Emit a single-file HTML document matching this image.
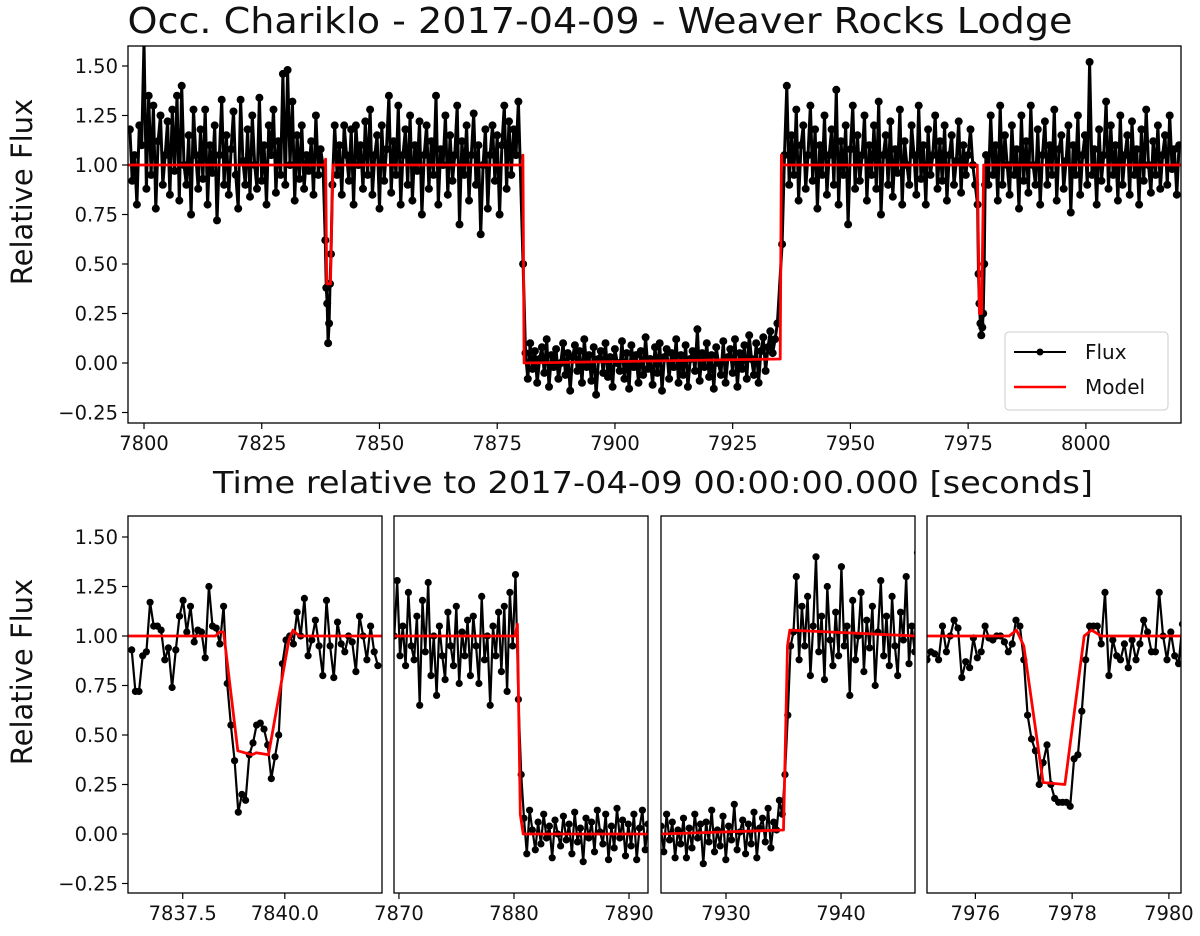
<!DOCTYPE html>
<html><head><meta charset="utf-8"><style>
body{margin:0;background:#fff}
svg text{font-family:"DejaVu Sans","Liberation Sans",sans-serif;fill:#111}
</style></head><body>
<svg id="fig" xmlns="http://www.w3.org/2000/svg" width="1200" height="931" viewBox="0 0 1200 931">
<text x="600" y="33" font-size="36" text-anchor="middle" textLength="945" lengthAdjust="spacingAndGlyphs">Occ. Chariklo - 2017-04-09 - Weaver Rocks Lodge</text>
<text x="653" y="493" font-size="30" text-anchor="middle" textLength="880" lengthAdjust="spacingAndGlyphs">Time relative to 2017-04-09 00:00:00.000 [seconds]</text>
<text transform="translate(32,192) rotate(-90)" font-size="29" text-anchor="middle">Relative Flux</text>
<text transform="translate(32,672) rotate(-90)" font-size="29" text-anchor="middle">Relative Flux</text>
<g id="plots"></g>
<g>
<rect x="1005" y="332" width="163" height="78" rx="4" fill="#fff" fill-opacity="0.85" stroke="#ccc"/>
<line x1="1014" y1="352" x2="1066" y2="352" stroke="#000" stroke-width="2"/>
<circle cx="1040" cy="352" r="3.5" fill="#000"/>
<text x="1085" y="359" font-size="20">Flux</text>
<line x1="1014" y1="387" x2="1066" y2="387" stroke="#f00" stroke-width="2.5"/>
<text x="1085" y="394" font-size="20">Model</text>
</g>
</svg>
<script>
const topBase1=[1.18,0.92,1.05,0.8,1.2,1.1,1.62,0.88,1.35,0.95,1.3,0.78,1.12,1.25,0.9,1.05,1.22,0.85,1.28,0.97,1.35,0.82,1.4,1.0,0.9,1.15,0.75,1.28,1.05,0.88,1.18,0.93,1.28,0.8,1.1,0.96,1.2,0.72,1.05,1.33,0.9,1.15,0.85,1.08,1.27,0.95,0.78,1.33,1.02,0.9,1.18,0.84,1.25,1.0,0.88,1.34,0.92,1.1,0.8,1.2,1.05,1.28,0.86,1.12,0.95,1.46,0.9,1.48,1.0,1.32,0.82,1.15,0.93,1.2,0.88,1.05,0.97,1.12,0.85,1.25,0.95,1.08,1.0];
const topDip1=[0.62,0.38,0.3,0.1,0.2,0.4,0.55];
const topBase2=[0.9,1.2,0.95,1.1,0.85,1.2,1.05,0.92,1.18,0.8,1.2,1.0,1.1,0.88,1.22,0.95,1.28,0.85,1.05,1.15,0.78,1.2,0.92,1.08,1.35,0.86,1.12,0.95,1.3,0.8,1.05,1.18,0.9,1.25,0.82,1.1,0.97,1.22,0.75,1.05,1.2,0.88,1.12,0.95,1.35,0.8,1.08,1.0,1.25,0.85,1.15,0.92,1.05,1.3,0.7,1.12,0.95,1.2,0.82,1.05,1.26,0.9,1.1,0.65,1.0,1.18,0.78,1.05,1.2,0.92,1.15,0.75,1.1,1.3,0.88,1.22,0.95,1.18,1.05,1.32];
const topOcc=[0.5,0.05,-0.08,0.1,-0.03,0.06,-0.1,0.02,0.08,-0.05,0.12,-0.12,0.04,-0.02,0.07,-0.08,0.0,0.1,-0.06,0.05,-0.14,0.03,0.09,-0.04,0.06,-0.1,0.12,-0.02,0.04,-0.09,0.08,-0.16,0.02,0.06,-0.05,0.1,-0.07,0.03,-0.12,0.07,0.0,-0.04,0.11,-0.08,0.05,-0.13,0.09,-0.02,0.04,-0.1,0.06,-0.06,0.13,-0.03,0.02,-0.11,0.08,-0.05,0.1,-0.14,0.03,0.07,-0.08,0.05,-0.02,0.12,-0.1,0.04,-0.06,0.09,-0.12,0.02,0.06,-0.04,0.17,-0.09,0.05,-0.02,0.1,-0.07,0.04,-0.13,0.08,0.0,-0.06,0.11,-0.1,0.03,0.07,-0.05,0.12,-0.12,0.05,-0.03,0.09,-0.08,0.14,0.02,-0.06,0.1,-0.1,0.06,0.13,-0.04,0.08,0.16,0.05,0.12,0.2];
const topBase3=[0.6,1.05,1.4,0.9,1.15,0.95,1.28,0.82,1.1,1.2,0.88,1.05,1.3,0.92,1.18,0.78,1.1,0.95,1.25,0.85,1.05,1.18,0.9,1.38,0.8,1.12,0.95,1.2,0.7,1.08,1.3,0.88,1.15,0.92,1.05,1.25,0.82,1.1,0.95,1.2,0.88,1.32,0.75,1.05,1.15,0.9,1.22,0.84,1.08,0.96,1.28,0.8,1.12,1.0,0.9,1.2,1.05,0.85,1.3,0.93,1.1,0.8,1.18,0.95,1.05,1.25,0.88,1.12,0.92,1.2,0.82,1.05,1.15,0.9,1.02,1.22,0.86,1.1,0.95,1.05,1.18,1.0,0.9];
const topDip2=[0.8,0.45,0.3,0.2,0.14,0.18,0.25,0.5,0.9];
const topBase4=[1.05,0.9,1.25,0.95,1.1,0.82,1.3,0.9,1.15,1.0,0.85,1.2,0.95,1.08,0.78,1.25,0.92,1.12,0.86,1.3,1.0,0.9,1.18,0.8,1.05,1.22,0.9,1.1,0.95,1.28,0.82,1.08,1.15,0.88,1.02,1.2,0.76,1.1,0.95,1.25,0.85,1.05,1.15,0.9,1.52,0.95,1.08,0.8,1.18,0.92,1.05,1.32,0.88,1.2,0.95,1.1,0.82,1.25,0.9,1.05,1.15,0.85,1.22,0.95,1.08,0.8,1.18,0.92,1.28,1.0,0.86,1.12,0.95,1.2,0.88,1.05,1.15,0.9,1.25,0.98,1.08,0.85,1.1];
const topSegStarts=[7797,7838.5,7840,7880.5,7935.5,7977.0,7978.8];
const topSegSteps=[0.5,0.2,0.5,0.5,0.5,0.2,0.5];
const topModelT=[7796,7838.4,7838.55,7838.8,7839.6,7839.75,7840.1,7880.3,7880.45,7880.7,7935.1,7935.35,7935.5,7976.95,7977.4,7977.85,7978.3,8021];
const topModelV=[1,1,1.03,0.4,0.4,0.6,1,1,1.05,0,0.02,1.05,1,1,0.25,0.25,1,1];
const topTicks=[7800,7825,7850,7875,7900,7925,7950,7975,8000];

const p1Flux=[0.93,0.72,0.72,0.9,0.92,1.17,1.05,1.05,1.03,0.88,0.94,0.74,0.93,1.1,1.18,1.02,1.15,0.97,1.03,1.02,0.89,1.25,1.05,1.04,0.96,1.15,0.76,0.55,0.37,0.11,0.2,0.17,0.4,0.46,0.55,0.56,0.53,0.45,0.28,0.39,0.5,0.86,0.98,1.0,0.96,1.12,1.0,1.19,0.9,0.98,1.08,0.95,0.8,1.18,0.95,0.79,1.07,0.96,0.92,1.0,0.97,0.82,1.1,1.0,0.88,1.05,0.92,0.85];
const p1Start=7836.25, p1Step=0.09;
const p1ModelT=[7836.1,7838.3,7838.4,7838.5,7838.85,7839.2,7839.3,7839.6,7840.1,7840.2,7840.35,7842.4];
const p1ModelV=[1,1,1.02,1.02,0.42,0.4,0.41,0.4,0.98,1.03,1.0,1];
const p1Ticks=[7837.5,7840.0];

const p2Flux=[1.0,1.28,0.9,1.05,0.85,1.22,0.95,0.88,1.1,0.65,1.18,0.92,1.27,0.8,1.0,0.7,1.05,0.9,0.78,1.12,0.95,0.85,1.15,0.76,1.02,0.9,1.08,0.8,1.1,0.95,0.76,1.2,0.88,1.0,0.65,1.05,0.9,1.12,0.82,1.15,0.72,1.22,0.95,1.31,
0.68,0.3,
0.08,-0.1,0.12,0.02,-0.08,0.06,-0.05,0.1,-0.02,0.04,-0.12,0.07,0.0,-0.06,0.09,-0.03,0.05,-0.1,0.11,-0.04,0.03,-0.14,0.08,-0.02,0.06,-0.09,0.12,0.01,-0.05,0.1,-0.13,0.04,-0.07,0.13,-0.02,0.07,-0.11,0.05,-0.06,0.1,-0.13,0.03,0.12,-0.08,0.05];
const p2Start=7869.6, p2Step=0.245;
const p2ModelT=[7869.5,7880.1,7880.3,7880.55,7880.8,7891.7];
const p2ModelV=[1,1,1.06,0.1,0,0];
const p2Ticks=[7870,7880,7890];

const p3Flux=[0.04,-0.09,0.1,-0.03,0.06,-0.12,0.02,
-0.05,0.08,-0.12,0.03,-0.07,0.1,-0.02,0.05,-0.15,0.06,-0.04,0.12,-0.09,0.02,-0.06,0.09,-0.13,0.04,-0.03,0.15,-0.08,0.01,0.07,-0.1,0.05,-0.05,0.11,-0.12,0.03,0.08,-0.04,0.13,-0.07,0.06,0.02,0.17,0.1,
0.3,0.6,0.95,
1.02,1.3,0.88,1.15,0.95,1.2,0.8,1.05,1.4,0.92,1.1,0.78,1.25,0.98,0.85,1.12,0.9,1.35,0.95,1.05,0.7,1.18,0.88,1.0,1.22,0.82,1.08,0.94,1.15,0.75,1.02,1.28,0.9,1.1,0.85,1.2,0.95,0.8,1.12,0.98,1.3,0.86,1.05,0.92,1.42,0.88,1.1,0.95,1.02];
const p3Start=7924.35, p3Step=0.245;
const p3ModelT=[7924.3,7935.0,7935.35,7935.55,7946.5];
const p3ModelV=[0,0.02,0.95,1.03,1];
const p3Ticks=[7930,7940];

const p4Flux=[0.88,0.92,0.91,0.88,1.05,0.92,1.0,1.08,1.04,0.79,0.87,0.84,0.99,0.89,0.92,1.05,0.99,0.98,1.0,1.0,0.97,0.92,0.96,1.08,1.05,0.88,0.6,0.48,0.42,0.25,0.36,0.45,0.25,0.18,0.16,0.16,0.16,0.14,0.38,0.4,0.62,0.88,1.05,1.05,1.05,0.96,1.22,0.8,0.98,0.9,0.88,0.96,0.84,0.98,0.88,0.96,1.08,1.02,0.92,0.92,1.22,1.0,0.88,1.02,0.9,0.86,1.06];
const p4Start=7975.0, p4Step=0.08;
const p4ModelT=[7975,7976.7,7976.85,7977.0,7977.4,7977.85,7978.25,7978.4,7978.6,7980.3];
const p4ModelV=[1,1,1.03,0.95,0.26,0.25,1.0,1.03,1.0,1];
const p4Ticks=[7976,7978,7980];

const yTicks=[-0.25,0,0.25,0.5,0.75,1.0,1.25,1.5];
const NS='http://www.w3.org/2000/svg';
const root=document.getElementById('plots');
function mk(tag,attrs,parent){const e=document.createElementNS(NS,tag);for(const k in attrs)e.setAttribute(k,attrs[k]);if(parent)parent.appendChild(e);return e;}

function panel(name,cfg){
  const {x0,x1,t0,t1,yTop,yBot,zeroY,pts,mT,mV,ticks,showY,tickFmt}=cfg;
  const lw=cfg.lw||2.2, mr=cfg.mr||3.6;
  const sx=t=>x0+(t-t0)/(t1-t0)*(x1-x0);
  const sy=v=>zeroY-v*198;
  const g=mk('g',{},root);
  
  
  const cid='clip-'+name;
  const cp=mk('clipPath',{id:cid},g);
  mk('rect',{x:x0,y:yTop,width:x1-x0,height:yBot-yTop},cp);
  const inner=mk('g',{'clip-path':'url(#'+cid+')'},g);
  let d='';
  pts.forEach((p,i)=>{d+=(i?'L':'M')+sx(p[0]).toFixed(1)+','+sy(p[1]).toFixed(1);});
  const fl=mk('path',{d:d,fill:'none',stroke:'#000','stroke-width':lw},inner);
  
  
  const dots=mk('g',{fill:'#000'},inner);
  pts.forEach(p=>{
    const c=mk('circle',{cx:sx(p[0]).toFixed(1),cy:sy(p[1]).toFixed(1),r:mr},dots);
    
    
  });
  let md='';
  mT.forEach((t,i)=>{md+=(i?'L':'M')+sx(t).toFixed(1)+','+sy(mV[i]).toFixed(1);});
  const ml=mk('path',{d:md,fill:'none',stroke:'#f00','stroke-width':2.8,'stroke-linejoin':'round'},inner);
  
  
  mk('rect',{x:x0,y:yTop,width:x1-x0,height:yBot-yTop,fill:'none',stroke:'#000','stroke-width':1.3},g);
  ticks.forEach(t=>{
    const x=sx(t);
    mk('line',{x1:x,y1:yBot,x2:x,y2:yBot+6,stroke:'#000','stroke-width':1.2},g);
    const tx=mk('text',{x:x,y:yBot+27,'font-size':19.5,'text-anchor':'middle'},g);
    tx.textContent=tickFmt(t);
    
    
  });
  if(showY){yTicks.forEach(v=>{
    const y=sy(v);
    mk('line',{x1:x0-6,y1:y,x2:x0,y2:y,stroke:'#000','stroke-width':1.2},g);
    const tx=mk('text',{x:x0-10,y:y+7,'font-size':19.5,'text-anchor':'end'},g);
    tx.textContent=(v<0?'\u2212':'')+Math.abs(v).toFixed(2);
    
    
  });}
}
function series(arr,start,step){return arr.map((v,i)=>[start+i*step,v]);}
const topSegs=[topBase1,topDip1,topBase2,topOcc,topBase3,topDip2,topBase4];
let topPts=[];
topSegs.forEach((s,k)=>{topPts=topPts.concat(series(s,topSegStarts[k],topSegSteps[k]));});
const intF=t=>String(t), decF=t=>t.toFixed(1);
panel('top-panel',{x0:128,x1:1181,t0:7796.6,t1:8020.2,yTop:46,yBot:423,zeroY:363,pts:topPts,mT:topModelT,mV:topModelV,ticks:topTicks,showY:true,tickFmt:intF,lw:3,mr:4});
panel('zoom-panel-1',{x0:128,x1:382,t0:7836.16,t1:7842.38,yTop:516,yBot:893,zeroY:834,pts:series(p1Flux,p1Start,p1Step),mT:p1ModelT,mV:p1ModelV,ticks:p1Ticks,showY:true,tickFmt:decF});
panel('zoom-panel-2',{x0:394,x1:648,t0:7869.57,t1:7891.65,yTop:516,yBot:893,zeroY:834,pts:series(p2Flux,p2Start,p2Step),mT:p2ModelT,mV:p2ModelV,ticks:p2Ticks,showY:false,tickFmt:intF});
panel('zoom-panel-3',{x0:661,x1:915,t0:7924.35,t1:7946.43,yTop:516,yBot:893,zeroY:834,pts:series(p3Flux,p3Start,p3Step),mT:p3ModelT,mV:p3ModelV,ticks:p3Ticks,showY:false,tickFmt:intF});
panel('zoom-panel-4',{x0:927,x1:1181,t0:7975.0,t1:7980.25,yTop:516,yBot:893,zeroY:834,pts:series(p4Flux,p4Start,p4Step),mT:p4ModelT,mV:p4ModelV,ticks:p4Ticks,showY:false,tickFmt:intF});
</script>
</body></html>
